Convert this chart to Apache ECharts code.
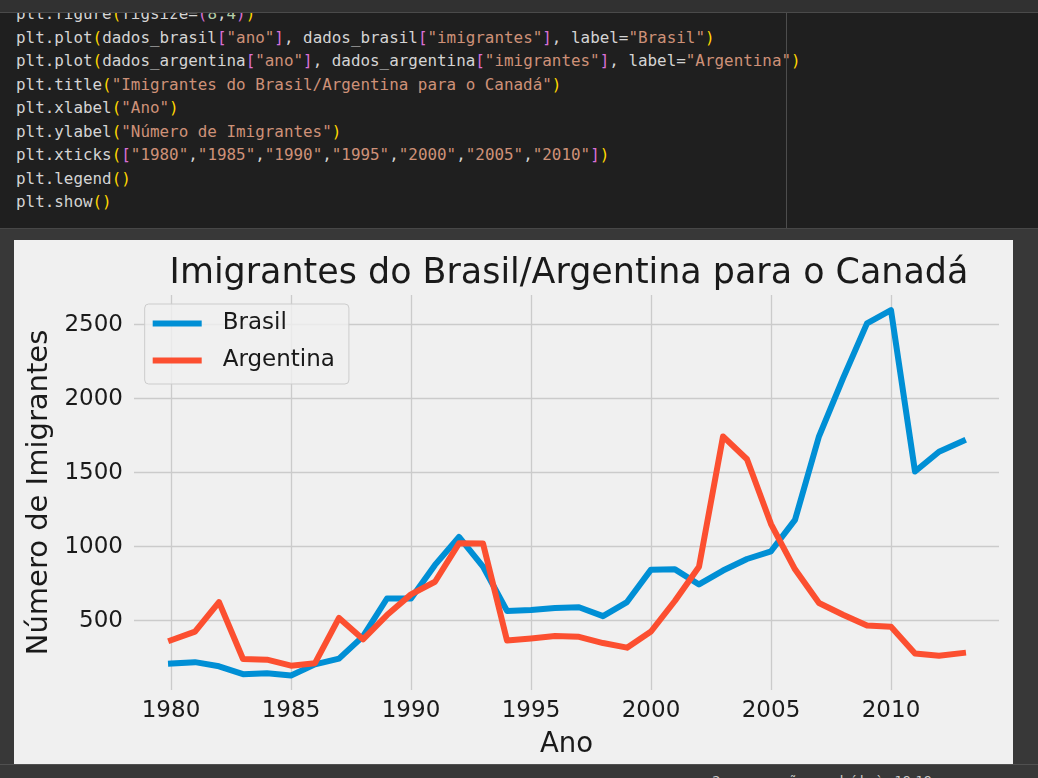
<!DOCTYPE html>
<html>
<head>
<meta charset="utf-8">
<script src="https://cdn.jsdelivr.net/npm/echarts@6/dist/echarts.min.js"></script>
<style>
  html, body { margin:0; padding:0; width:1038px; height:778px; overflow:hidden; background:#383838; }
  #topbar { position:absolute; left:0; top:0; width:1038px; height:12px; background:#313131; border-bottom:1px solid #4a4a4a; }
  #code { position:absolute; left:0; top:13px; width:1038px; height:215px; background:#1f1f1f; overflow:hidden; border-bottom:1px solid #474747; }
  #code pre { position:absolute; left:16px; top:-10.8px; margin:0; font-family:"DejaVu Sans Mono", monospace; font-size:15.9px; line-height:23.5px; color:#d4d4d4; }
  #vline { position:absolute; left:786px; top:13px; width:1px; height:215px; background:#4d4d4d; }
  #chart { position:absolute; left:14px; top:240px; width:999px; height:524px; background:#f0f0f0; }
  #status { position:absolute; left:0; top:764px; width:1038px; height:14px; border-top:1px solid #505050; overflow:hidden; }
  #status span { position:absolute; left:708px; top:8px; font-family:"DejaVu Sans", sans-serif; font-size:13px; color:#cccccc; white-space:pre; }
  .s { color:#ce9178; } .y { color:#ffd700; } .m { color:#da70d6; } .n { color:#b5cea8; }
</style>
</head>
<body>
<div id="topbar"></div>
<div id="code"><pre>plt.figure<span class="y">(</span>figsize=<span class="m">(</span><span class="n">8</span>,<span class="n">4</span><span class="m">)</span><span class="y">)</span>
plt.plot<span class="y">(</span>dados_brasil<span class="m">[</span><span class="s">"ano"</span><span class="m">]</span>, dados_brasil<span class="m">[</span><span class="s">"imigrantes"</span><span class="m">]</span>, label=<span class="s">"Brasil"</span><span class="y">)</span>
plt.plot<span class="y">(</span>dados_argentina<span class="m">[</span><span class="s">"ano"</span><span class="m">]</span>, dados_argentina<span class="m">[</span><span class="s">"imigrantes"</span><span class="m">]</span>, label=<span class="s">"Argentina"</span><span class="y">)</span>
plt.title<span class="y">(</span><span class="s">"Imigrantes do Brasil/Argentina para o Canadá"</span><span class="y">)</span>
plt.xlabel<span class="y">(</span><span class="s">"Ano"</span><span class="y">)</span>
plt.ylabel<span class="y">(</span><span class="s">"Número de Imigrantes"</span><span class="y">)</span>
plt.xticks<span class="y">(</span><span class="m">[</span><span class="s">"1980"</span>,<span class="s">"1985"</span>,<span class="s">"1990"</span>,<span class="s">"1995"</span>,<span class="s">"2000"</span>,<span class="s">"2005"</span>,<span class="s">"2010"</span><span class="m">]</span><span class="y">)</span>
plt.legend<span class="y">()</span>
plt.show<span class="y">()</span></pre></div>
<div id="vline"></div>
<div id="chart"></div>
<div id="status"><span><span style="color:#3fb950">✓</span> 2 s   execução concluída às 19:19</span></div>
<script>
const years = [1980,1981,1982,1983,1984,1985,1986,1987,1988,1989,1990,1991,1992,1993,1994,1995,1996,1997,1998,1999,2000,2001,2002,2003,2004,2005,2006,2007,2008,2009,2010,2011,2012,2013];
const brasil = [211,220,192,139,145,130,205,244,394,650,650,877,1066,866,566,572,586,591,531,626,845,847,745,839,917,969,1181,1746,2138,2509,2598,1508,1642,1714];
const argentina = [368,426,626,241,237,196,213,519,374,538,678,763,1023,1022,366,380,396,391,349,318,427,635,865,1745,1591,1153,847,620,540,467,459,278,263,282];
const xTicks = [1980,1985,1990,1995,2000,2005,2010];
const yTicks = [500,1000,1500,2000,2500];
const seriesNames = ['Brasil','Argentina'];
const titleText = 'Imigrantes do Brasil/Argentina para o Canadá';
const xName = 'Ano';
const yName = 'Número de Imigrantes';

const FONT = '"DejaVu Sans", sans-serif';
const TXT = '#1a1a1a';
const chart = echarts.init(document.getElementById('chart'), null, {renderer:'canvas'});
const pair = arr => years.map((y,i)=>[y, arr[i]]);
const plain = v => String(v);
chart.setOption({
  animation:false,
  backgroundColor:'#f0f0f0',
  title:{ text:titleText, left:550, textAlign:'center', top:11,
    textStyle:{ fontFamily:FONT, fontSize:34.9, fontWeight:'normal', color:TXT } },
  legend:{ orient:'vertical', left:130.7, top:64, data:seriesNames,
    icon:'rect', itemWidth:49, itemHeight:6, itemGap:14,
    padding:[8,14,12,8], backgroundColor:'rgba(240,240,240,0.8)', borderColor:'#cccccc', borderWidth:1, borderRadius:4,
    textStyle:{ fontFamily:FONT, fontSize:23, color:TXT, padding:[0,0,0,16] } },
  grid:{ left:120, right:14, top:55, bottom:70, containLabel:false },
  xAxis:{ type:'value', min:1978.458, max:2014.5,
    name:xName, nameLocation:'middle', nameGap:41,
    nameTextStyle:{ fontFamily:FONT, fontSize:27.5, color:TXT },
    axisLine:{show:false}, axisTick:{show:false, customValues:xTicks},
    axisLabel:{ customValues:xTicks, formatter:plain, fontFamily:FONT, fontSize:23, color:TXT, margin:10 },
    splitLine:{ show:true, lineStyle:{ color:'#cbcbcb', width:1.3 } } },
  yAxis:{ type:'value', min:31.8, max:2700.7,
    name:yName, nameLocation:'middle', nameGap:78, nameRotate:90,
    nameTextStyle:{ fontFamily:FONT, fontSize:29, color:TXT },
    axisLine:{show:false}, axisTick:{show:false, customValues:yTicks},
    axisLabel:{ customValues:yTicks, formatter:plain, fontFamily:FONT, fontSize:23, color:TXT, margin:11 },
    splitLine:{ show:true, lineStyle:{ color:'#cbcbcb', width:1.3 } } },
  series:[
    { name:seriesNames[0], type:'line', data:pair(brasil), showSymbol:false, symbol:'none', color:'#008fd5',
      lineStyle:{ width:6, cap:'square', join:'round' } },
    { name:seriesNames[1], type:'line', data:pair(argentina), showSymbol:false, symbol:'none', color:'#fc4f30',
      lineStyle:{ width:6, cap:'square', join:'round' } }
  ]
});
</script>
</body>
</html>
